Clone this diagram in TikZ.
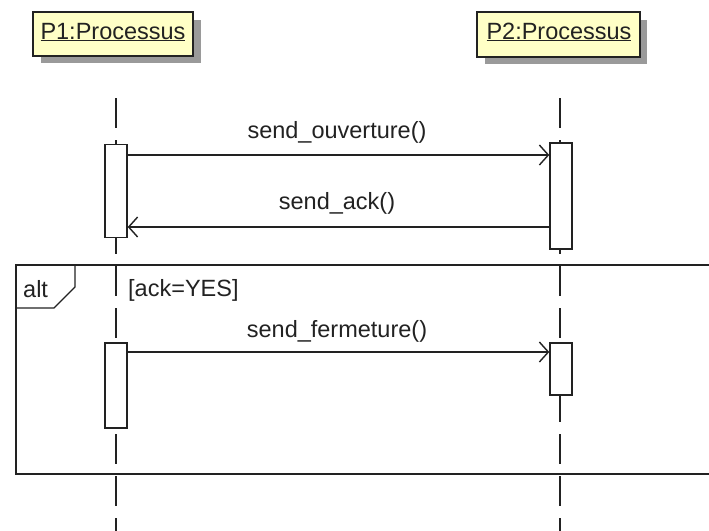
\documentclass[tikz,border=0pt]{standalone}
\usepackage{fontspec}
\setmainfont{Liberation Sans}
\usetikzlibrary{arrows.meta}
\definecolor{objfill}{HTML}{FFFFC6}
\definecolor{shadowgray}{HTML}{9A9A9A}
\definecolor{inkc}{HTML}{222222}
\tikzset{
  lbl/.style={font=\fontsize{23.5}{27}\selectfont, text=inkc, inner sep=0pt},
  objbox/.style={draw=inkc, line width=1.4pt, fill=objfill},
  objshadow/.style={fill=shadowgray, draw=none},
  lifeline/.style={draw=inkc, line width=1.4pt, dash pattern=on 30pt off 12pt},
  actbox/.style={draw=inkc, line width=1.4pt, fill=white, minimum width=22pt, inner sep=0pt},
  msg/.style={draw=inkc, line width=1.4pt, -{Straight Barb[length=9pt,width=20pt,line width=1.4pt]}},
  framebox/.style={draw=inkc, line width=1.4pt},
}
\begin{document}
\begin{tikzpicture}[x=1pt,y=-1pt]
\useasboundingbox (0,0) rectangle (709,530);
\clip (0,0) rectangle (709,530);
\fill[white] (0,0) rectangle (709,530);
% object boxes
\fill[objshadow] (41,20) rectangle (201,63);
\draw[objbox] (33,12) rectangle (193,56);
\node[lbl, anchor=base] (p1) at (113,39) {\underline{P1:Processus}};
\fill[objshadow] (485,20) rectangle (647,64);
\draw[objbox] (477,12) rectangle (640,57);
\node[lbl, anchor=base] (p2) at (559,39) {\underline{P2:Processus}};
% alt frame
\draw[framebox] (16,474) -- (16,265) -- (715,265) -- (715,474) -- cycle;
\draw[framebox] (16,308) -- (54,308) -- (75,287) -- (75,265);
\node[lbl, anchor=base west] (altlbl) at (23,297) {alt};
\node[lbl, anchor=base west] (guard) at (128,296) {[ack=YES]};
% lifelines
\coordinate (l1top) at (116,98);
\coordinate (l1bot) at (116,535);
\coordinate (l2top) at (560,98);
\coordinate (l2bot) at (560,535);
\draw[lifeline] (l1top) -- (l1bot);
\draw[lifeline] (l2top) -- (l2bot);
% activations
\node[actbox, minimum height=93pt] (a1) at (116,191) {};
\node[actbox, minimum height=106pt] (b1) at (561,196) {};
\node[actbox, minimum height=85pt] (a2) at (116,385.5) {};
\node[actbox, minimum height=52pt] (b2) at (561,369) {};
% messages
\draw[msg] (a1.east |- 0,155) -- (b1.west |- 0,155);
\node[lbl, anchor=base] (m1) at (337,138) {send\_ouverture()};
\draw[msg] (b1.west |- 0,227) -- (a1.east |- 0,227);
\node[lbl, anchor=base] (m2) at (337,209) {send\_ack()};
\draw[msg] (a2.east |- 0,352) -- (b2.west |- 0,352);
\node[lbl, anchor=base] (m3) at (337,337) {send\_fermeture()};
\end{tikzpicture}
\end{document}
